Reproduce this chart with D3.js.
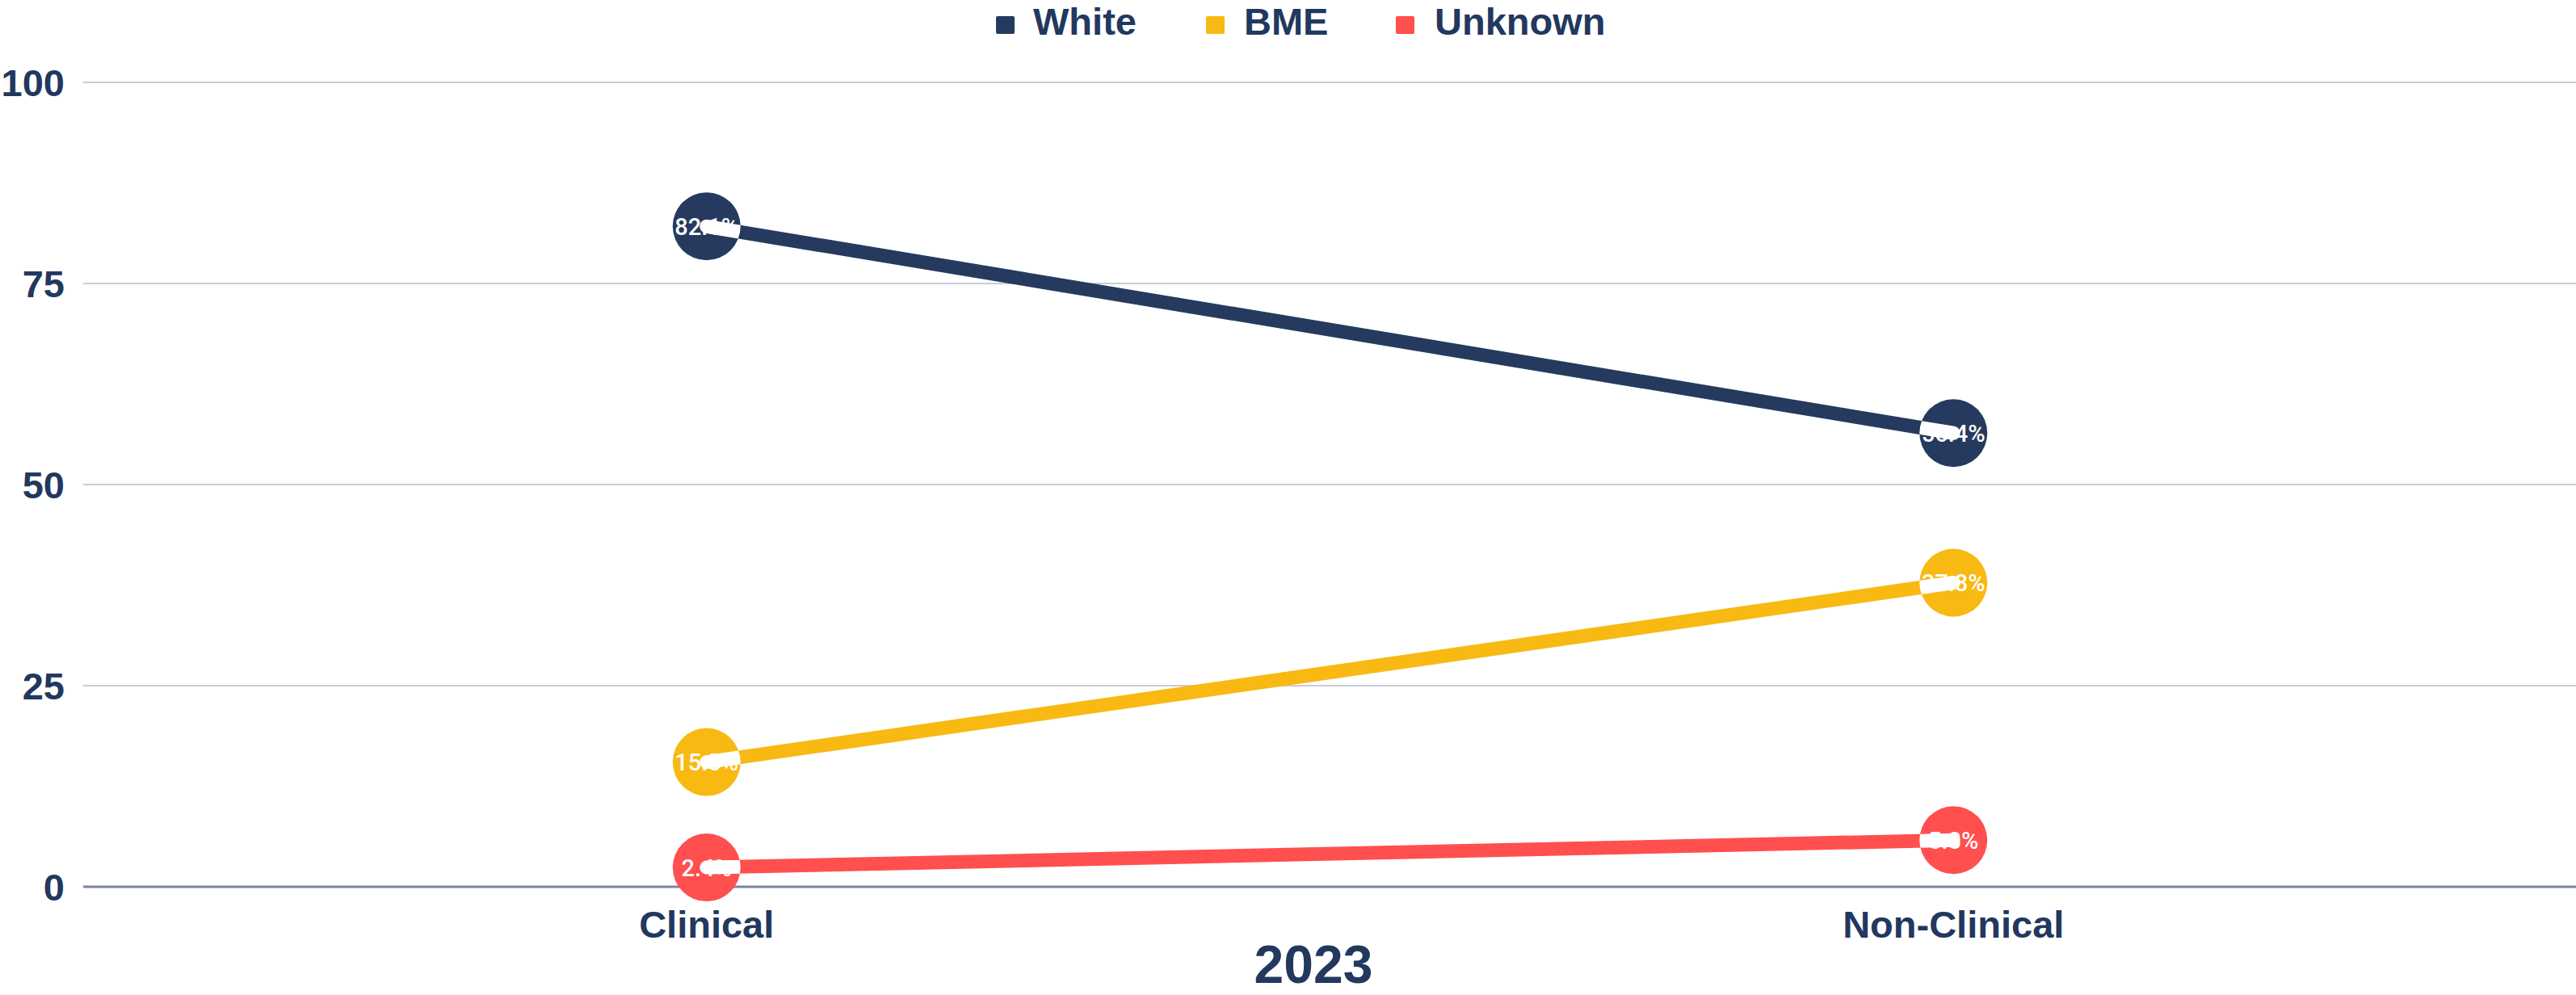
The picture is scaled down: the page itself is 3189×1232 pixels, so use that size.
<!DOCTYPE html>
<html><head><meta charset="utf-8">
<script src="https://cdn.jsdelivr.net/npm/d3@7"></script>
<style>html,body{margin:0;padding:0;background:#fff;}svg{display:block;}</style>
</head><body>
<svg id="chart" width="3189" height="1232"></svg>
<script>
const categories = ["Clinical", "Non-Clinical"];
const seriesNames = ["White", "BME", "Unknown"];
const whiteValues = [82.1, 56.4];
const bmeValues = [15.5, 37.8];
const unknownValues = [2.4, 5.8];
const yTicks = [0, 25, 50, 75, 100];
const xTitle = "2023";

const colors = {White: "#253a5e", BME: "#f8b912", Unknown: "#ff4f4f"};
const textColor = "#22385e";
const series = [
  {name: "White", values: whiteValues},
  {name: "BME", values: bmeValues},
  {name: "Unknown", values: unknownValues}
];

const svg = d3.select("#chart");
const W = 3189, H = 1232;
const mLeft = 103, mRight = 3190, mTop = 102, mBottom = 1098;

const x = d3.scaleBand().domain(categories).range([mLeft, mRight]).padding(0);
const y = d3.scaleLinear().domain([0, 100]).range([mBottom, mTop]);
const cx = c => x(c) + x.bandwidth() / 2;

// gridlines
svg.append("g").selectAll("line").data(yTicks.filter(t => t !== 0)).join("line")
  .attr("x1", mLeft).attr("x2", W).attr("y1", d => y(d)).attr("y2", d => y(d))
  .attr("stroke", "#c9cbd8").attr("stroke-width", 2);
// axis baseline
svg.append("line").attr("x1", mLeft).attr("x2", W).attr("y1", y(0)).attr("y2", y(0))
  .attr("stroke", "#7a8699").attr("stroke-width", 3);

// y tick labels
svg.append("g").selectAll("text").data(yTicks).join("text")
  .attr("x", 80).attr("y", d => y(d)).attr("dy", "0.36em")
  .attr("text-anchor", "end")
  .attr("font-family", "Liberation Sans, Arial, sans-serif").attr("font-weight", "bold")
  .attr("font-size", 47).attr("fill", textColor).text(d => d);

// x labels
svg.append("g").selectAll("text").data(categories).join("text")
  .attr("x", d => cx(d)).attr("y", 1161).attr("text-anchor", "middle")
  .attr("font-family", "Liberation Sans, Arial, sans-serif").attr("font-weight", "bold")
  .attr("font-size", 47).attr("fill", textColor).text(d => d);

svg.append("text").attr("x", 1626).attr("y", 1217).attr("text-anchor", "middle")
  .attr("font-family", "Liberation Sans, Arial, sans-serif").attr("font-weight", "bold")
  .attr("font-size", 66).attr("fill", textColor).text(xTitle);

// legend
const legendItems = [
  {name: "White", rx: 1233, tx: 1279},
  {name: "BME", rx: 1493, tx: 1540},
  {name: "Unknown", rx: 1728, tx: 1776}
];
const lg = svg.append("g");
lg.selectAll("rect").data(legendItems).join("rect")
  .attr("x", d => d.rx).attr("y", 20).attr("width", 23).attr("height", 22).attr("rx", 2)
  .attr("fill", d => colors[d.name]);
lg.selectAll("text").data(legendItems).join("text")
  .attr("x", d => d.tx).attr("y", 43)
  .attr("font-family", "Liberation Sans, Arial, sans-serif").attr("font-weight", "bold")
  .attr("font-size", 47).attr("fill", textColor).text(d => d.name);

const line = d3.line().x((d, i) => cx(categories[i])).y(d => y(d));
const r = 42;

// clip paths for white overlay
const defs = svg.append("defs");
series.forEach((s, si) => {
  const cp = defs.append("clipPath").attr("id", "clip" + si);
  s.values.forEach((v, i) => {
    cp.append("circle").attr("cx", cx(categories[i])).attr("cy", y(v)).attr("r", r);
  });
});

series.forEach((s, si) => {
  const g = svg.append("g");
  g.append("path").datum(s.values).attr("d", line)
    .attr("fill", "none").attr("stroke", colors[s.name]).attr("stroke-width", 17);
  g.selectAll("circle").data(s.values).join("circle")
    .attr("cx", (d, i) => cx(categories[i])).attr("cy", d => y(d)).attr("r", r)
    .attr("fill", colors[s.name]);
  g.selectAll("text").data(s.values).join("text")
    .attr("x", (d, i) => cx(categories[i])).attr("y", d => y(d)).attr("dy", "0.36em")
    .attr("text-anchor", "middle")
    .attr("font-family", "Roboto, sans-serif").attr("font-weight", 500)
    .attr("font-size", 29).attr("fill", "#fff").text(d => d.toFixed(1) + "%");
  g.append("path").datum(s.values).attr("d", line)
    .attr("clip-path", "url(#clip" + si + ")")
    .attr("fill", "none").attr("stroke", "#fff").attr("stroke-width", 17)
    .attr("stroke-linecap", "round");
});
</script>
</body></html>
